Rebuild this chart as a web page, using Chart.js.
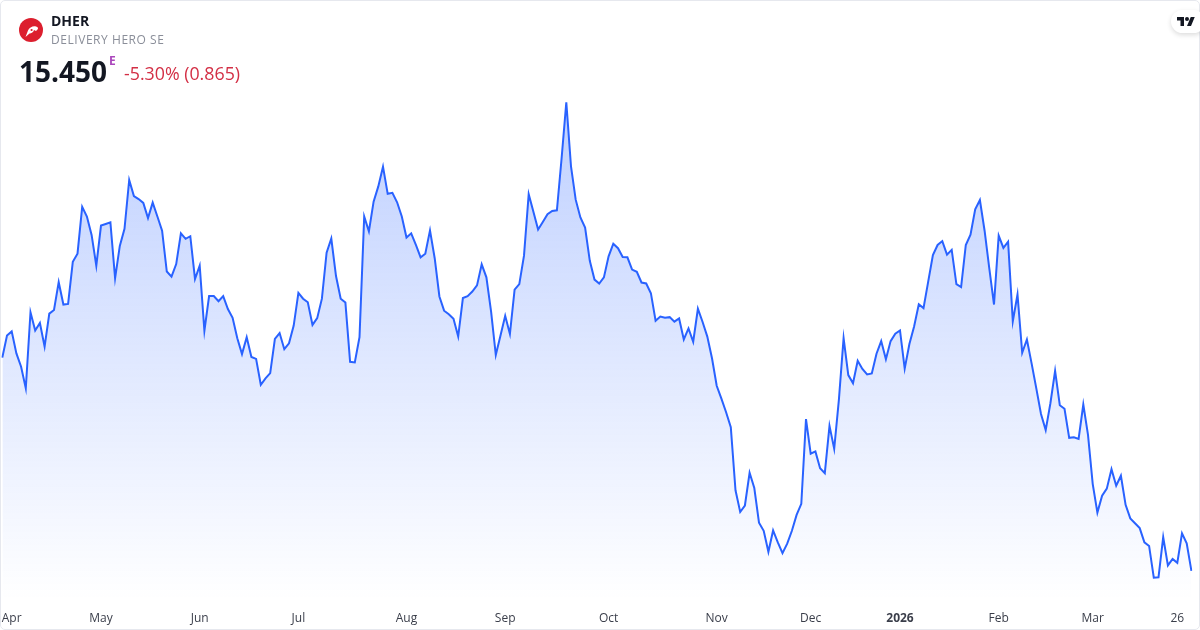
<!DOCTYPE html>
<html>
<head>
<meta charset="utf-8">
<script src="https://cdn.jsdelivr.net/npm/chart.js@4"></script>
<style>
html,body{margin:0;padding:0;background:#fff;width:1200px;height:630px;overflow:hidden;font-family:"Open Sans",sans-serif}
#wrap{position:relative;width:1200px;height:630px}
canvas{position:absolute;left:0;top:0}
.t{position:absolute;white-space:nowrap;line-height:1}
#frame{position:absolute;left:0;top:0;width:1198px;height:628px;border:1px solid #e6e8ee;border-radius:5px;pointer-events:none}
#tv{position:absolute;left:1171px;top:10px;width:34px;height:23px;background:#fff;border-radius:12px;box-shadow:0 2px 5px rgba(0,0,0,.14)}
</style>
</head>
<body>
<div id="wrap">
<canvas id="c" width="1200" height="630"></canvas>
<div id="frame"></div>
<svg style="position:absolute;left:19px;top:18px" width="24" height="24" viewBox="0 0 24 24"><circle cx="12" cy="12" r="12" fill="#dc1f2e"/><path d="M6.5 19L9 12.5C10.2 9.3 14 7.6 17 8.4c2 .6 2.5 2 1.5 3.1L17 13l-2-1c-.5 2-2.500 3.500-4.500 3.500z" fill="#fff"/><circle cx="12.600" cy="12" r="1.100" fill="#dc1f2e"/></svg>
<div class="t" id="sym" style="left:51px;top:14px;font-size:14px;font-weight:700;color:#131722">DHER</div>
<div class="t" id="name" style="left:51px;top:34px;font-size:12px;letter-spacing:.55px;color:#8a8e99">DELIVERY HERO SE</div>
<div class="t" id="price" style="left:19px;top:57px;font-size:28px;font-weight:700;color:#131722">15.450</div>
<div class="t" id="e" style="left:109px;top:55px;font-size:12px;font-weight:700;color:#ab47bc">E</div>
<div class="t" id="chg" style="left:124px;top:65px;font-size:17.8px;color:#d32f45">-5.30% (0.865)</div>
<div id="tv"><svg style="position:absolute;left:6px;top:5px" width="18" height="12" viewBox="0 0 36 24"><path d="M14 22H7V11H0V4h14v18zM28 22h-8l7.5-18h8L28 22z" fill="#131722"/><circle cx="20" cy="8" r="4" fill="#131722"/></svg></div>
</div>
<script>
const closes = [
22.04,22.72,22.85,22.17,21.76,21.09,23.44,22.88,23.11,22.38,
23.40,23.51,24.37,23.68,23.70,25.00,25.25,26.70,26.40,25.83,
24.88,26.12,26.17,26.22,24.49,25.49,26.02,27.53,27.03,26.94,
26.82,26.35,26.83,26.40,25.96,24.70,24.54,24.93,25.88,25.71,
25.79,24.47,24.88,22.87,23.94,23.94,23.78,23.94,23.54,23.27,
22.64,22.15,22.67,22.06,22.00,21.20,21.40,21.56,22.62,22.80,
22.30,22.48,23.03,24.04,23.86,23.75,23.05,23.26,23.86,25.28,
25.72,24.56,23.86,23.74,21.91,21.89,22.67,26.40,25.94,26.86,
27.33,27.94,27.10,27.13,26.84,26.40,25.75,25.88,25.52,25.14,
25.25,25.97,25.11,23.93,23.49,23.38,23.24,22.69,23.88,23.94,
24.08,24.27,24.92,24.52,23.46,22.12,22.72,23.33,22.77,24.14,
24.31,25.19,27.09,26.55,26.00,26.23,26.47,26.57,26.59,28.20,
29.93,27.95,26.92,26.37,26.06,25.03,24.45,24.33,24.52,25.17,
25.56,25.42,25.15,25.14,24.76,24.69,24.36,24.33,24.03,23.18,
23.31,23.27,23.29,23.15,23.25,22.60,22.94,22.53,23.55,23.14,
22.69,22.02,21.17,20.77,20.35,19.89,17.94,17.27,17.47,18.48,
18.01,16.94,16.69,16.04,16.70,16.33,16.00,16.29,16.69,17.18,
17.52,20.14,19.07,19.14,18.62,18.47,19.93,19.22,20.74,22.64,
21.50,21.25,21.94,21.69,21.52,21.55,22.16,22.55,21.99,22.55,
22.78,22.88,21.70,22.46,23.00,23.69,23.57,24.39,25.21,25.52,
25.64,25.22,25.37,24.31,24.22,25.52,25.84,26.62,26.91,25.96,
24.80,23.68,25.81,25.43,25.62,23.16,23.99,22.19,22.60,21.86,
21.09,20.30,19.80,20.63,21.63,20.57,20.46,19.56,19.58,19.53,
20.59,19.65,18.14,17.25,17.77,17.99,18.59,18.08,18.39,17.49,
17.07,16.92,16.77,16.33,16.22,15.24,15.25,16.49,15.62,15.82,
15.70,16.61,16.30,15.45
];
const tickLabels = ["Apr","May","Jun","Jul","Aug","Sep","Oct","Nov","Dec","2026","Feb","Mar","26"];
const tickSessions = [2,21,42,63,86,107,129,152,172,191,212,232,250];
const boldTick = "2026";
const categories = closes.map(function(_, i){
  const k = tickSessions.indexOf(i);
  return k >= 0 ? tickLabels[k] : "";
});

new Chart(document.getElementById("c"), {
  type: "line",
  data: {
    labels: categories,
    datasets: [{
      data: closes,
      borderColor: "#2962ff",
      borderWidth: 2,
      borderJoinStyle: "miter",
      pointRadius: 0,
      tension: 0,
      fill: "start",
      backgroundColor: function(ctx){
        const a = ctx.chart.chartArea;
        if(!a) return "rgba(41,98,255,0.2)";
        const g = ctx.chart.ctx.createLinearGradient(0,102,0,a.bottom);
        g.addColorStop(0,"rgba(41,98,255,0.3)");
        g.addColorStop(1,"rgba(41,98,255,0.0)");
        return g;
      }
    }]
  },
  options: {
    responsive: false,
    animation: false,
    layout: {padding: {left: 2.3, right: 8.6, top: 0, bottom: 0}},
    plugins: {legend: {display: false}, tooltip: {enabled: false}, title: {display: false}},
    scales: {
      x: {
        type: "category",
        offset: false,
        grid: {display: false, drawTicks: false},
        border: {display: false},
        afterFit: function(s){ s.height = 30; s.paddingLeft = 0; s.paddingRight = 0; },
        ticks: {
          autoSkip: false,
          maxRotation: 0,
          minRotation: 0,
          padding: 11,
          color: "#3a3e4a",
          font: function(ctx){
            return {family: '"Open Sans", sans-serif', size: 12, weight: ctx.tick && ctx.tick.label === boldTick ? "700" : "400"};
          }
        }
      },
      y: {
        display: false,
        min: 14.55,
        max: 33.09
      }
    }
  }
});
</script>
</body>
</html>
